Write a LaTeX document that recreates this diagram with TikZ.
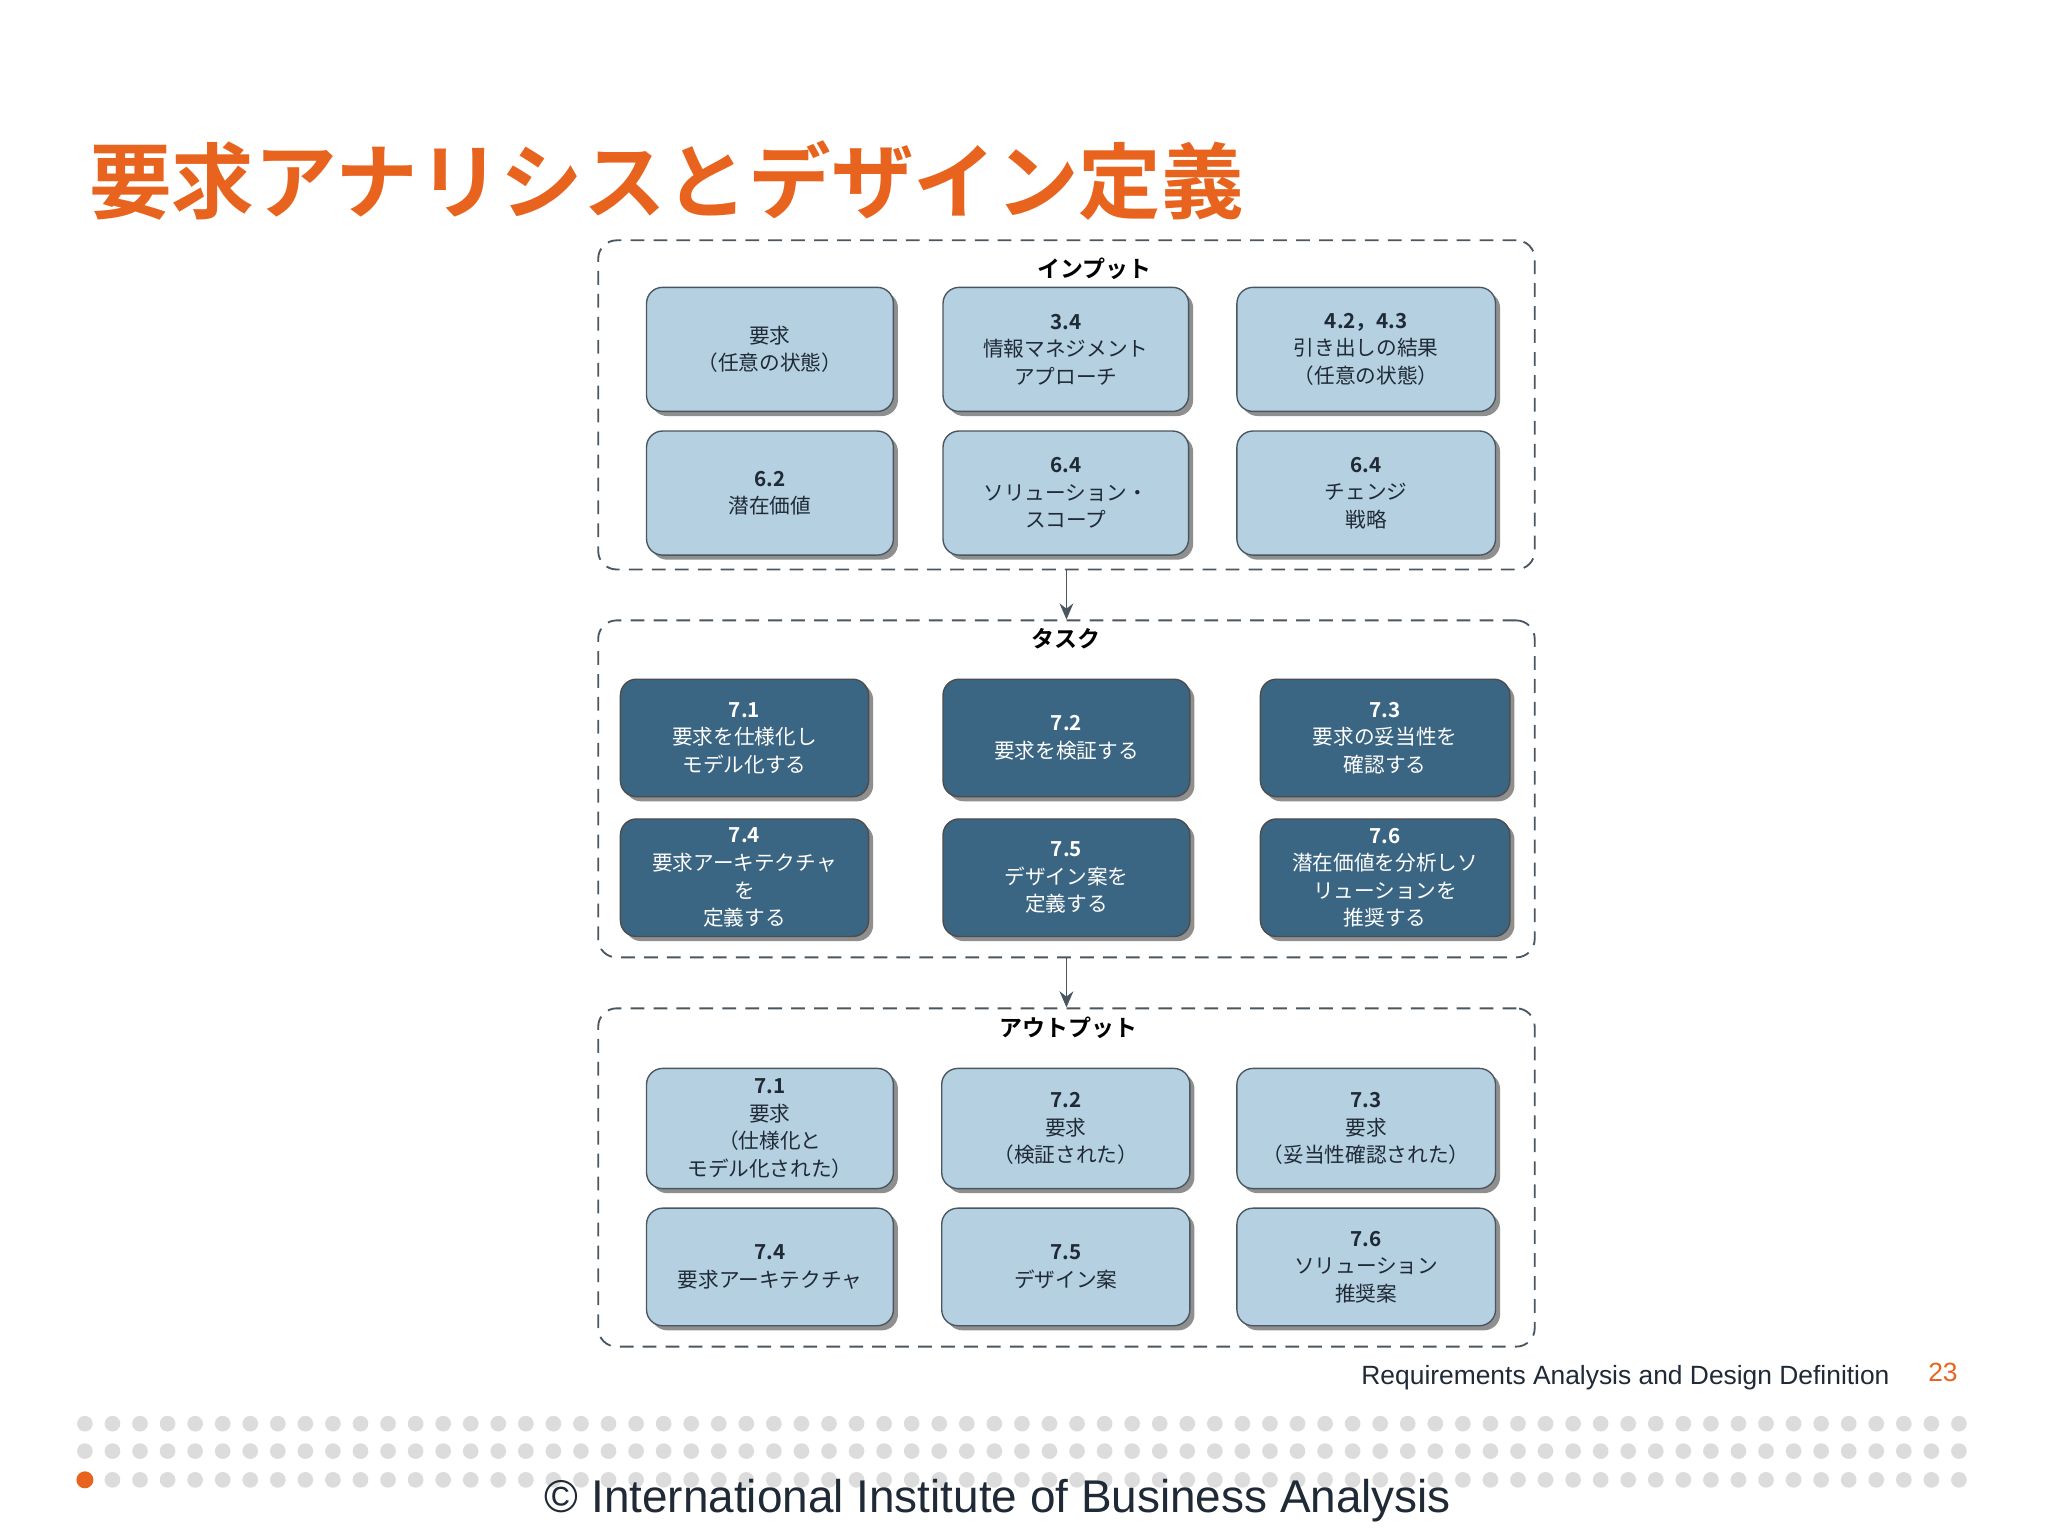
\documentclass[tikz,border=0pt]{standalone}
\usepackage{fontspec}
\setmainfont{Noto Sans CJK JP}[BoldFont={Noto Sans CJK JP Bold}]
\newfontfamily\lat{Liberation Sans}
\usetikzlibrary{arrows.meta,shadows}
\definecolor{ttl}{HTML}{E8641E}
\definecolor{lb}{HTML}{B5D0E0}
\definecolor{db}{HTML}{3B6683}
\definecolor{edge}{HTML}{4A5660}
\definecolor{dotg}{HTML}{DCDCDC}
\definecolor{navy}{HTML}{1F2A36}
\tikzset{
 cont/.style={draw=edge, dashed, dash pattern=on 6pt off 4pt, rounded corners=8pt, line width=0.8pt},
 lbox/.style={draw=edge, fill=lb, rounded corners=7pt, line width=0.6pt, align=center, font=\fontsize{9}{12}\selectfont, text=navy, drop shadow={shadow xshift=2pt, shadow yshift=-2pt, fill=black!55, opacity=0.8}},
 dbox/.style={lbox, fill=db, text=white, draw=black!70},
 clab/.style={font=\bfseries\fontsize{10}{12}\selectfont, text=black},
 arr/.style={draw=edge, line width=0.8pt, -{Stealth[length=7pt,width=6pt]}}
}
\newcommand{\bx}[7]{\node[#6, minimum width={(#4-#2)*0.02cm}, minimum height={(#5-#3)*0.02cm}] (#1) at ({(#2+#4)/2},{(#3+#5)/2}) {#7};}
\newcommand{\cont}[5]{\node[cont, minimum width={(#4-#2)*0.02cm}, minimum height={(#5-#3)*0.02cm}, inner sep=0] (#1) at ({(#2+#4)/2},{(#3+#5)/2}) {};}
\begin{document}
\begin{tikzpicture}[x=0.02cm,y=-0.02cm]
\useasboundingbox[fill=white] (0,0) rectangle (1568,1176);
\node[anchor=base west, text=ttl, font=\bfseries\fontsize{36}{40}\selectfont, inner sep=0] (title) at (68,163) {要求アナリシスとデザイン定義};
% containers
\cont{inbox}{458}{184}{1175}{436}
\cont{taskbox}{458}{475}{1175}{733}
\cont{outbox}{458}{772}{1175}{1031}
\node[clab] (inl) at (838,206) {インプット};
\node[clab] (tkl) at (816,489) {タスク};
\node[clab] (otl) at (818,787) {アウトプット};
\draw[arr] (inbox.south) -- (taskbox.north);
\draw[arr] (taskbox.south) -- (outbox.north);
% inputs
\bx{i1}{495}{220}{684}{315}{lbox}{要求\\（任意の状態）}
\bx{i2}{722}{220}{910}{315}{lbox}{\textbf{3.4}\\情報マネジメント\\アプローチ}
\bx{i3}{947}{220}{1145}{315}{lbox}{\textbf{4.2，4.3}\\引き出しの結果\\（任意の状態）}
\bx{i4}{495}{330}{684}{425}{lbox}{\textbf{6.2}\\潜在価値}
\bx{i5}{722}{330}{910}{425}{lbox}{\textbf{6.4}\\ソリューション・\\スコープ}
\bx{i6}{947}{330}{1145}{425}{lbox}{\textbf{6.4}\\チェンジ\\戦略}
% tasks
\bx{t1}{475}{520}{665}{610}{dbox}{\textbf{7.1}\\要求を仕様化し\\モデル化する}
\bx{t2}{722}{520}{911}{610}{dbox}{\textbf{7.2}\\要求を検証する}
\bx{t3}{965}{520}{1156}{610}{dbox}{\textbf{7.3}\\要求の妥当性を\\確認する}
\bx{t4}{475}{627}{665}{717}{dbox}{\textbf{7.4}\\要求アーキテクチャ\\を\\定義する}
\bx{t5}{722}{627}{911}{717}{dbox}{\textbf{7.5}\\デザイン案を\\定義する}
\bx{t6}{965}{627}{1156}{717}{dbox}{\textbf{7.6}\\潜在価値を分析しソ\\リューションを\\推奨する}
% outputs
\bx{o1}{495}{818}{684}{910}{lbox}{\textbf{7.1}\\要求\\（仕様化と\\モデル化された）}
\bx{o2}{721}{818}{911}{910}{lbox}{\textbf{7.2}\\要求\\（検証された）}
\bx{o3}{947}{818}{1145}{910}{lbox}{\textbf{7.3}\\要求\\（妥当性確認された）}
\bx{o4}{495}{925}{684}{1015}{lbox}{\textbf{7.4}\\要求アーキテクチャ}
\bx{o5}{721}{925}{911}{1015}{lbox}{\textbf{7.5}\\デザイン案}
\bx{o6}{947}{925}{1145}{1015}{lbox}{\textbf{7.6}\\ソリューション\\推奨案}
% footer
\foreach \r in {1090,1111,1133}{\foreach \i in {0,...,68}{\fill[dotg] ({65+\i*21.1},\r) circle (6);}}
\fill[ttl] (65,1133) circle (6.5);
\node[anchor=base east, font=\lat\fontsize{11.5}{13}\selectfont, text=navy, inner sep=0] (ft) at (1447,1060) {Requirements Analysis and Design Definition};
\node[anchor=base west, font=\lat\fontsize{11.5}{13}\selectfont, text=ttl, inner sep=0] (pg) at (1476,1058) {23};
\node[anchor=base, font=\lat\fontsize{20}{24}\selectfont, text=navy, inner sep=0] (cp) at (764,1158) {© International Institute of Business Analysis};
\end{tikzpicture}
\end{document}
